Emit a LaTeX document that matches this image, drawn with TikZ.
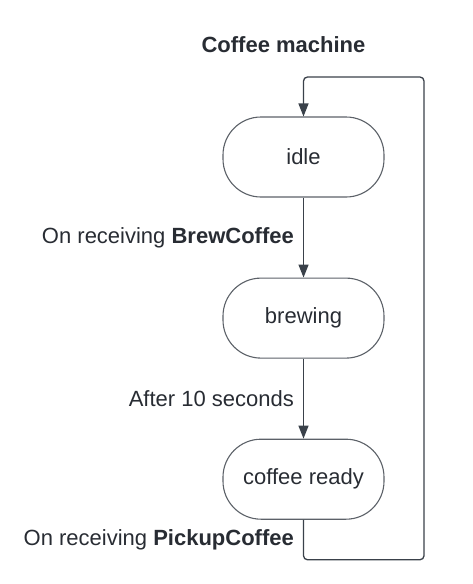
\documentclass[tikz,border=0pt]{standalone}
\usepackage{fontspec}
\setmainfont{Liberation Sans}
\usetikzlibrary{arrows.meta,positioning}
\definecolor{slate}{HTML}{3A414A}
\definecolor{ink}{HTML}{282C33}
\definecolor{rim}{HTML}{5C6168}

\begin{document}
\begin{tikzpicture}[
  x=1pt,y=1pt,
  font=\fontsize{22}{26}\selectfont,
  text=ink,
  state/.style={draw=rim,line width=1.1pt,rounded corners=38pt,
                minimum width=161pt,minimum height=80pt,inner sep=3pt},
  arr/.style={-{Triangle[length=13pt,width=10pt]},line width=1.3pt,draw=slate},
  lbl/.style={left=7pt,inner sep=2pt},
]
\useasboundingbox (0,0) rectangle (472,-584);

\node[font=\fontsize{22}{26}\selectfont\bfseries] (title) at (283.5,-45) {Coffee machine};

% States
\node[state] (idle) at (303.5,-157) {idle};
\node[state,below=80pt of idle] (brewing) {brewing};
\node[state,below=80pt of brewing] (ready) {coffee ready};

% Transitions
\draw[arr] (idle.south) -- node[lbl] {On receiving \textbf{BrewCoffee}} (brewing.north);
\draw[arr] (brewing.south) -- node[lbl] {After 10 seconds} (ready.north);

% Back to idle
\coordinate (turn) at (424,-77);
\draw[arr,rounded corners=4pt] (ready.south)
  -- node[lbl] {On receiving \textbf{PickupCoffee}} ++(0,-40)
  -| (turn) -| (idle.north);

\end{tikzpicture}
\end{document}
